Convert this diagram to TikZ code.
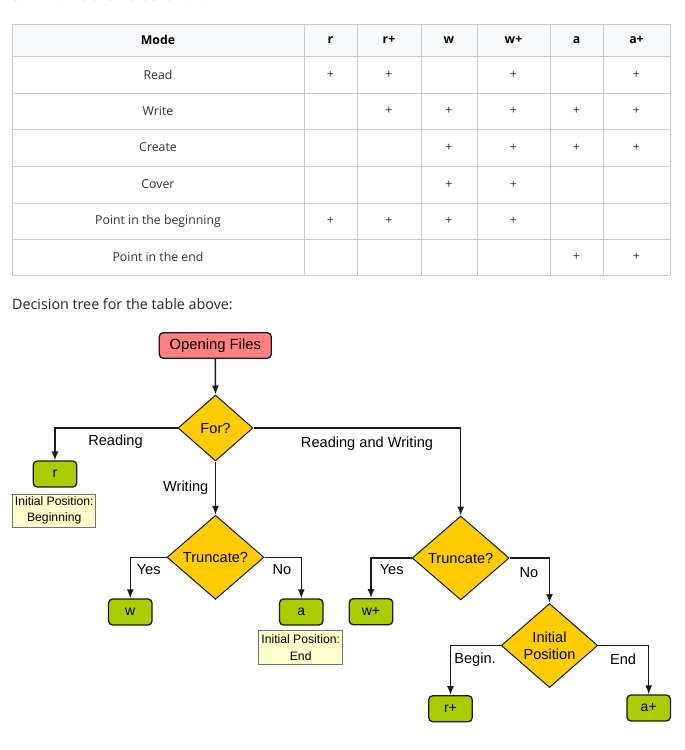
\documentclass[tikz,border=0pt]{standalone}
\usepackage{fontspec}
\setmainfont{Open Sans}
\newfontfamily\arialf{Liberation Sans}
\usetikzlibrary{shapes.geometric,arrows.meta}
\definecolor{gridc}{HTML}{C8CCD1}
\definecolor{headc}{HTML}{F8F9FA}
\definecolor{bodyt}{HTML}{303236}
\definecolor{startc}{HTML}{FF8080}
\definecolor{decc}{HTML}{FFCC00}
\definecolor{leafc}{HTML}{AACC00}
\definecolor{notec}{HTML}{FFFFCC}
\definecolor{lnc}{HTML}{1A1A1A}
\tikzset{
  cell/.style={font=\fontsize{12.3}{14}\selectfont, text=bodyt, inner sep=0pt},
  hcell/.style={font=\bfseries\fontsize{12.3}{14}\selectfont, text=black, inner sep=0pt},
  startbox/.style={draw=lnc, line width=1.3pt, fill=startc, rounded corners=4pt, minimum width=112pt, minimum height=25.5pt, inner sep=0pt, font=\arialf\fontsize{14.8}{17}\selectfont},
  leafbox/.style={draw=lnc, line width=1.3pt, fill=leafc, rounded corners=4pt, minimum width=43.5pt, minimum height=26pt, inner sep=0pt, font=\arialf\fontsize{14}{17}\selectfont},
  decbox/.style={diamond, draw=lnc, line width=1pt, fill=decc, inner sep=0pt, font=\arialf\fontsize{14.6}{17.3}\selectfont, align=center},
  notebox/.style={draw=gray!90!black, line width=0.8pt, fill=notec, minimum width=83pt, minimum height=33pt, inner sep=0pt, align=center, font=\arialf\fontsize{12.2}{16.5}\selectfont},
  lbl/.style={inner sep=0pt, font=\arialf\fontsize{14.6}{17}\selectfont},
  arr/.style={draw=lnc, line width=1.5pt, -{Latex[length=9pt,width=7pt]}},
}
\begin{document}
\begin{tikzpicture}[x=1pt,y=-1pt]
\useasboundingbox (0,0) rectangle (685,750);
\clip (0,0) rectangle (685,750);
\fill[white] (0,0) rectangle (685,750);
% clipped text line at top
\node[anchor=base west, inner sep=0pt, font=\fontsize{14.3}{17}\selectfont, text=black!85] (summ) at (12,0.3) {Summarize the I/O behavior:};
% table
\fill[headc] (12,24) rectangle (670,56);
\foreach \yy in {24,56,93,129,166,203,239,275} \draw[gridc, line width=0.9pt] (12,\yy) -- (670,\yy);
\foreach \xx in {12,304,357,421,477,550,603,670} \draw[gridc, line width=0.9pt] (\xx,24) -- (\xx,275);
\node[hcell] (hMode) at (158,40) {Mode};
\node[hcell] (hr) at (330.5,40) {r};
\node[hcell] (hrp) at (389,40) {r+};
\node[hcell] (hw) at (449,40) {w};
\node[hcell] (hwp) at (513.5,40) {w+};
\node[hcell] (ha) at (576.5,40) {a};
\node[hcell] (hap) at (636.5,40) {a+};
\node[cell] (m1) at (158,74.5) {Read};
\node[cell] (m2) at (158,111) {Write};
\node[cell] (m3) at (158,147.5) {Create};
\node[cell] (m4) at (158,184.5) {Cover};
\node[cell] (m5) at (158,221) {Point in the beginning};
\node[cell] (m6) at (158,257) {Point in the end};
% plus marks
\foreach \xx/\yy/\nm in {330.5/74.5/p11, 389/74.5/p12, 513.5/74.5/p14, 636.5/74.5/p16,
  389/111/p22, 449/111/p23, 513.5/111/p24, 576.5/111/p25, 636.5/111/p26,
  449/147.5/p33, 513.5/147.5/p34, 576.5/147.5/p35, 636.5/147.5/p36,
  449/184.5/p43, 513.5/184.5/p44,
  330.5/221/p51, 389/221/p52, 449/221/p53, 513.5/221/p54,
  576.5/257/p65, 636.5/257/p66}
  \node[cell] (\nm) at (\xx,\yy) {+};
% heading
\node[anchor=west, inner sep=0pt, font=\fontsize{14.3}{17}\selectfont, text=black!85] (dtitle) at (12,304) {Decision tree for the table above:};
% diagram
\node[startbox] (open) at (215.3,345.5) {Opening Files};
\node[decbox, minimum width=75pt, minimum height=66pt, aspect=1.14] (for) at (215.5,428) {For?};
\node[leafbox] (r) at (55,474) {r};
\node[notebox] (nb) at (54.2,510.5) {Initial Position:\\Beginning};
\node[decbox, minimum width=97pt, minimum height=84pt, aspect=1.15] (trl) at (215.5,557.3) {Truncate?};
\node[leafbox] (w) at (130.3,612) {w};
\node[leafbox] (a) at (301.3,612) {a};
\node[notebox, minimum width=84pt, minimum height=33.6pt] (ne) at (300.7,647.5) {Initial Position:\\End};
\node[decbox, minimum width=97pt, minimum height=84pt, aspect=1.15] (trr) at (460.7,558) {Truncate?};
\node[leafbox] (wp) at (371,611.7) {w+};
\node[decbox, minimum width=96.5pt, minimum height=84pt, aspect=1.15] (ip) at (549.5,645.5) {Initial\\Position};
\node[leafbox] (rp) at (450.5,708.7) {r+};
\node[leafbox] (ap) at (648.7,708) {a+};
% connectors
\draw[arr] (open.south) -- (for.north);
\draw[arr] (for.west) -| (r.north);
\draw[arr] (for.south) -- (trl.north);
\draw[arr] (for.east) -| (trr.north);
\draw[arr] (trl.west) -| (w.north);
\draw[arr] (trl.east) -| (a.north);
\draw[arr] (trr.west) -| (wp.north);
\draw[arr] (trr.east) -| (ip.north);
\draw[arr] (ip.west) -| (rp.north);
\draw[arr] (ip.east) -| (ap.north);
% labels
\node[lbl] (lread) at (115.5,441.5) {Reading};
\node[lbl] (lrw) at (367,443.3) {Reading and Writing};
\node[lbl] (lwrite) at (185.7,488) {Writing};
\node[lbl] (lyes1) at (148.7,570) {Yes};
\node[lbl] (lno1) at (282,570) {No};
\node[lbl] (lyes2) at (391.7,569.3) {Yes};
\node[lbl] (lno2) at (529,572.3) {No};
\node[lbl] (lbeg) at (475,659.3) {Begin.};
\node[lbl] (lend) at (623,659.3) {End};
\end{tikzpicture}
\end{document}
